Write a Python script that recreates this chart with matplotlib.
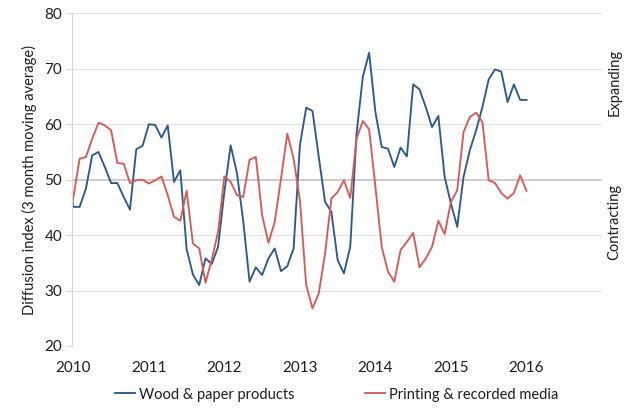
import numpy as np
import pandas as pd
import matplotlib
matplotlib.use("Agg")
import matplotlib.pyplot as plt

# monthly diffusion index, 3 month moving average (Dec 2009 - Jan 2016)
months = pd.date_range("2009-12-01", "2016-01-01", freq="MS")

wood_paper = [
    51.1,
    45.1, 45.1, 48.4, 54.4, 55.0, 52.3, 49.4, 49.4, 46.9, 44.6, 55.5, 56.1,
    60.0, 59.9, 57.6, 59.8, 49.6, 51.7, 37.5, 32.9, 31.0, 35.8, 34.8, 37.9,
    47.8, 56.2, 51.2, 42.5, 31.6, 34.2, 32.8, 35.8, 37.6, 33.5, 34.4, 37.6,
    56.2, 63.0, 62.4, 54.1, 46.0, 44.2, 35.5, 33.1, 37.9, 58.3, 68.6, 72.9,
    62.2, 55.9, 55.6, 52.3, 55.8, 54.2, 67.2, 66.3, 63.1, 59.5, 61.5, 50.5,
    45.7, 41.5, 50.5, 55.3, 58.9, 63.1, 68.1, 69.9, 69.5, 64.0, 67.2, 64.4,
    64.4,
]
printing_media = [
    39.5,
    46.8, 53.8, 54.1, 57.4, 60.3, 59.8, 58.9, 53.0, 52.9, 49.4, 49.9, 50.0,
    49.3, 49.9, 50.6, 47.2, 43.3, 42.6, 48.0, 38.5, 37.6, 31.4, 35.6, 40.6,
    50.6, 49.6, 47.2, 46.9, 53.6, 54.1, 43.6, 38.6, 42.4, 50.2, 58.3, 53.8,
    46.3, 31.0, 26.8, 29.5, 36.7, 46.6, 47.8, 49.9, 46.7, 57.4, 60.6, 59.1,
    48.7, 37.9, 33.4, 31.6, 37.3, 38.8, 40.4, 34.2, 35.8, 37.9, 42.6, 40.2,
    46.0, 48.1, 58.6, 61.3, 62.1, 60.4, 49.9, 49.4, 47.6, 46.6, 47.6, 50.8,
    48.0,
]

series_names = ["Wood & paper products", "Printing & recorded media"]
series_colors = ["#2b5a8e", "#d85a57"]
year_ticks = [2010, 2011, 2012, 2013, 2014, 2015, 2016]
y_ticks = [20, 30, 40, 50, 60, 70, 80]

# fractional years for the x positions
x = months.year + (months.month - 1) / 12.0

plt.rcParams["font.family"] = ["Lato", "DejaVu Sans"]
text_color = "#1e1e1e"

fig = plt.figure(figsize=(6.35, 4.08), dpi=100)
ax = fig.add_axes([0.113, 0.152, 0.835, 0.815])

ax.plot(x, wood_paper, color=series_colors[0], lw=1.35, label=series_names[0])
ax.plot(x, printing_media, color=series_colors[1], lw=1.35, label=series_names[1])

ax.set_xlim(2010 - 0.25 / 12, 2017)
ax.set_ylim(20, 80)

# gridlines, with the 50 line a bit darker
for v in y_ticks:
    ax.axhline(v, color="#bfbfbf" if v == 50 else "#e2e2e2",
               lw=1.1 if v == 50 else 0.8, zorder=0)

for side in ["top", "right", "bottom"]:
    ax.spines[side].set_visible(False)
ax.spines["left"].set_color("#d9d9d9")
ax.spines["left"].set_linewidth(0.8)

ax.set_yticks(y_ticks)
ax.set_xticks(year_ticks)
ax.tick_params(axis="y", length=4, width=0.8, color="#d9d9d9", pad=3,
               labelsize=11, labelcolor=text_color)
ax.tick_params(axis="x", length=0, pad=10.5, labelsize=11, labelcolor=text_color)

ax.set_ylabel("Diffusion index (3 month moving average)", fontsize=10.5,
              color=text_color, labelpad=5)

fig.text(0.968, 0.798, "Expanding", rotation=90, ha="center", va="center",
         fontsize=10.5, color=text_color)
fig.text(0.968, 0.455, "Contracting", rotation=90, ha="center", va="center",
         fontsize=10.5, color=text_color)

fig.legend(loc="center", bbox_to_anchor=(0.53, 0.033), ncol=2, frameon=False,
           fontsize=10.5, handlelength=1.4, handletextpad=0.25,
           columnspacing=4.8, labelcolor=text_color)

fig.savefig("out.png", dpi=100)
